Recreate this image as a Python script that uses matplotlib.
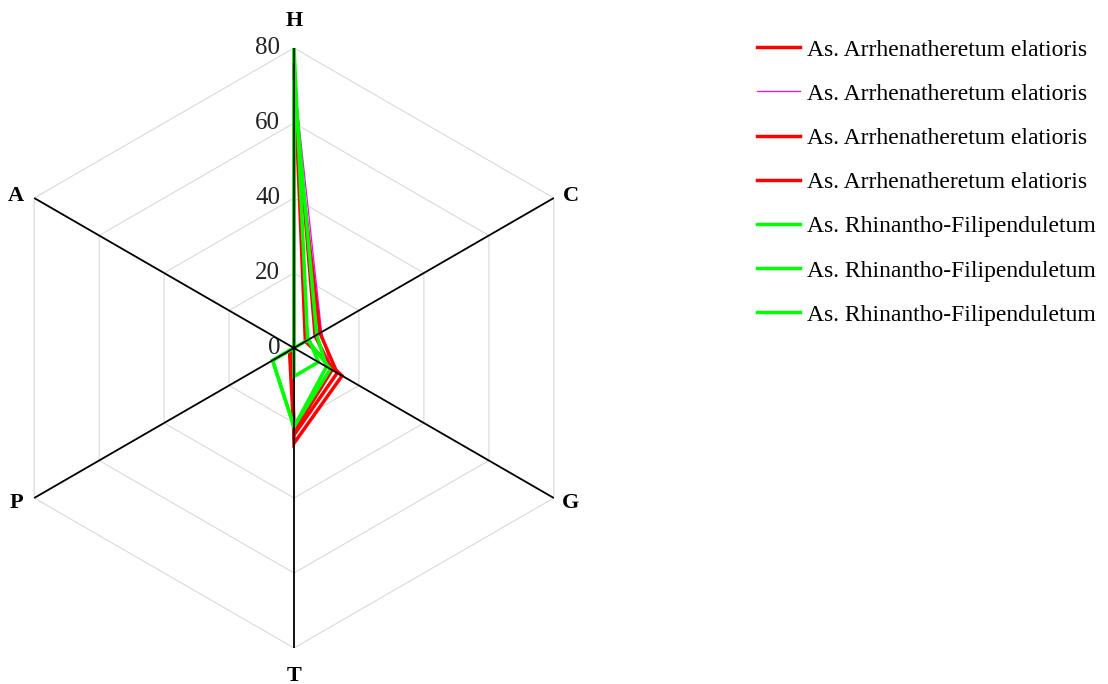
import numpy as np
import matplotlib
matplotlib.use("Agg")
import matplotlib.pyplot as plt
from matplotlib.lines import Line2D

plt.rcParams['font.family'] = ['Liberation Serif', 'DejaVu Serif']

# axes of the radar, clockwise from the top
categories = ['H', 'C', 'G', 'T', 'P', 'A']
ticks = [0, 20, 40, 60, 80]

labels = ['As. Arrhenatheretum elatioris'] * 4 + ['As. Rhinantho-Filipenduletum'] * 3

#           H     C    G     T     P    A
arr_1 = [75.5, 3.5, 14.8, 25.4, 0.5, 0.0]
arr_2 = [72.0, 8.5, 11.5, 22.2, 0.3, 0.0]
arr_3 = [62.5, 8.0, 13.3, 23.2, 1.4, 0.0]
arr_4 = [71.5, 6.5, 11.7, 22.3, 0.8, 0.0]
rhi_1 = [80.0, 4.2, 11.2, 21.0, 6.6, 0.0]
rhi_2 = [71.0, 7.0, 10.0, 21.0, 6.6, 0.0]
rhi_3 = [0.0, 4.6, 7.5, 7.6, 0.0, 0.0]

series = [arr_1, arr_2, arr_3, arr_4, rhi_1, rhi_2, rhi_3]
colors = ['#ff0000', '#ff00ff', '#ff0000', '#ff0000', '#00ff00', '#00ff00', '#00ff00']
widths = [2.5, 0.9, 2.5, 2.5, 2.5, 2.5, 2.5]

W, H = 1108, 684
fig = plt.figure(figsize=(W / 100, H / 100), dpi=100)
# centre of the web at (294, 348) px, radius 300 px
cx, cy, rad = 294, 348, 300
ax = fig.add_axes([(cx - rad) / W, (H - cy - rad) / H, 2 * rad / W, 2 * rad / H],
                  projection='polar')
ax.set_theta_zero_location('N')
ax.set_theta_direction(-1)
ax.set_ylim(0, 80)
ax.set_axis_off()

theta = np.deg2rad(np.arange(len(categories)) * 60.0)
theta_c = np.append(theta, theta[0])

# hexagon grid
for lv in ticks[1:]:
    ax.plot(theta_c, [lv] * len(theta_c), color='#d9d9d9', lw=0.8, zorder=1)

# data
for vals, c, lw in zip(series, colors, widths):
    v = list(vals) + [vals[0]]
    ax.plot(theta_c, v, color=c, lw=lw, zorder=3, solid_joinstyle='miter')

# spokes
for t in theta:
    ax.plot([t, t], [0, 80], color='black', lw=1.3, zorder=4)

# radial tick labels
for v in ticks:
    ax.annotate(str(v), xy=(0, v), xytext=(-14, 0), textcoords='offset pixels',
                ha='right', va='center', fontsize=18, color='#222222',
                annotation_clip=False)

# category labels
offs = {'H': (0, 27), 'C': (17, 2), 'G': (17, -5), 'T': (0, -28), 'P': (-18, -5), 'A': (-18, 2)}
for t, name in zip(theta, categories):
    dx, dy = offs[name]
    ax.annotate(name, xy=(t, 80), xytext=(dx, dy), textcoords='offset pixels',
                ha='center', va='center', fontsize=16, fontweight='bold',
                annotation_clip=False)

handles = [Line2D([], [], color=c, lw=lw) for c, lw in zip(colors, widths)]
fig.legend(handles, labels, loc='upper left', bbox_to_anchor=(757 / W, 1 - 39 / H),
           frameon=False, fontsize=17, handlelength=1.8, handletextpad=0.3,
           labelspacing=0.96, borderpad=0, borderaxespad=0)

fig.savefig('out.png', dpi=100)
